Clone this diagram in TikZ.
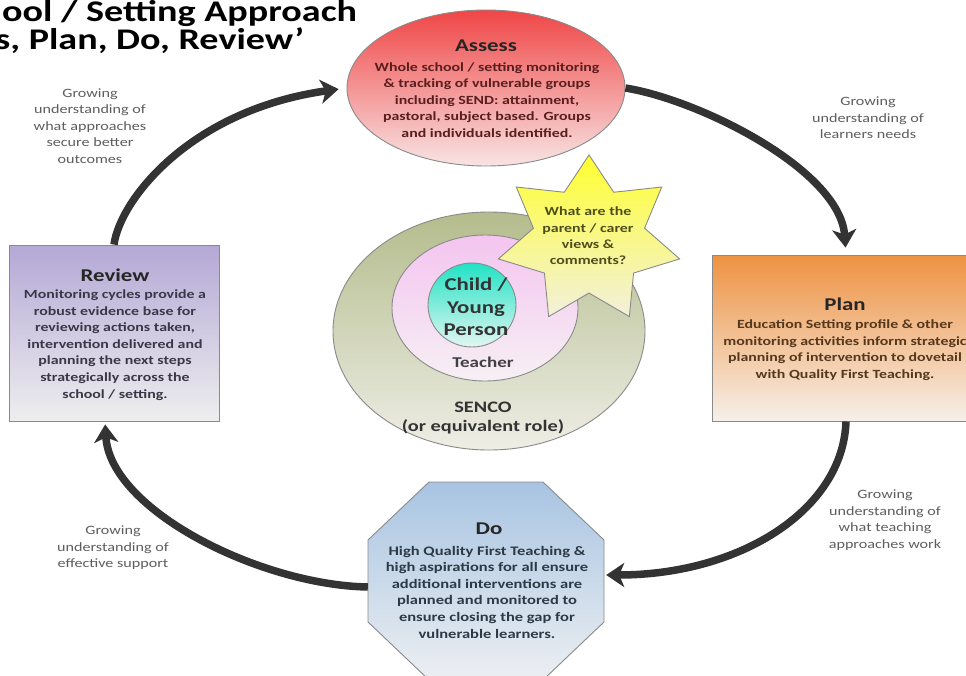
\documentclass[tikz,border=0pt]{standalone}
\usepackage{fontspec}
\setmainfont{Carlito}[FakeStretch=1.27]
\usetikzlibrary{shapes.geometric,arrows.meta}
\definecolor{arrowc}{HTML}{333333}
\definecolor{edgec}{HTML}{8A8A8A}
\definecolor{labelc}{HTML}{5E5E5E}
\definecolor{assessT}{HTML}{F04646}
\definecolor{assessB}{HTML}{F8E4E4}
\definecolor{assessTx}{HTML}{5A1E1E}
\definecolor{reviewT}{HTML}{B4A8D6}
\definecolor{reviewB}{HTML}{EEEEEE}
\definecolor{reviewTx}{HTML}{3A3848}
\definecolor{planT}{HTML}{EE9242}
\definecolor{planB}{HTML}{F6F0EA}
\definecolor{planTx}{HTML}{56381C}
\definecolor{doT}{HTML}{A8C4E2}
\definecolor{doB}{HTML}{ECEFF2}
\definecolor{doTx}{HTML}{2C3A48}
\definecolor{greenT}{HTML}{B4BC8C}
\definecolor{greenB}{HTML}{EEEEE6}
\definecolor{pinkT}{HTML}{F4C4F0}
\definecolor{pinkB}{HTML}{F6F0F4}
\definecolor{tealT}{HTML}{22E2C4}
\definecolor{tealB}{HTML}{E2F6F2}
\definecolor{starT}{HTML}{FFFF30}
\definecolor{starB}{HTML}{F2F0DC}
\definecolor{starTx}{HTML}{4E4E1C}
\begin{document}
\begin{tikzpicture}[x=1pt,y=-1pt,
  flow/.style={line width=7.5pt, draw=arrowc, -{Stealth[length=18pt,width=24pt,inset=5pt]}},
  shapeline/.style={draw=edgec, line width=0.9pt},
  headfont/.style={font=\fontsize{18}{21}\selectfont\bfseries},
  bodytext/.style={align=center, inner sep=0pt, font=\fontsize{12.5}{16.6}\selectfont\bfseries},
  gray label/.style={align=center, inner sep=0pt, text=labelc, font=\fontsize{12.7}{16.6}\selectfont},
  titletext/.style={anchor=base west, inner sep=0pt, font=\fontsize{30}{32}\selectfont\bfseries}
]
\useasboundingbox[fill=white] (0,0) rectangle (966,675);

% title (cropped in the reference)
\node[titletext] (title1) at (2,21) {ool / Setting Approach};
\node[titletext] (title2) at (-5,49) {s, Plan, Do, Review’};

% main shapes
\node[ellipse, shapeline, top color=assessT, bottom color=assessB, minimum width=278pt, minimum height=156pt] (assess) at (486,88) {};
\node[rectangle, shapeline, top color=reviewT, bottom color=reviewB, minimum width=210pt, minimum height=176pt] (review) at (114,333) {};
\node[rectangle, shapeline, top color=planT, bottom color=planB, minimum width=268pt, minimum height=166pt] (plan) at (846,338) {};
\path[shapeline, top color=doT, bottom color=doB] (429,482) -- (543,482) -- (604,540) -- (604,622) -- (543,680) -- (429,680) -- (368,622) -- (368,540) -- cycle;
\node[minimum width=236pt, minimum height=198pt, inner sep=0pt] (do) at (486,581) {};

% centre rings
\node[ellipse, shapeline, top color=greenT, bottom color=greenB, minimum width=312pt, minimum height=238pt] (senco) at (489,331) {};
\node[ellipse, shapeline, top color=pinkT, bottom color=pinkB, minimum width=186pt, minimum height=146pt] (teacher) at (485,308) {};
\node[ellipse, shapeline, top color=tealT, bottom color=tealB, minimum width=88pt, minimum height=84pt] (child) at (472,305) {};

% star
\path[shapeline, top color=starT, bottom color=starB] (589,155)
  \foreach \i in {1,...,7} { -- ({589+57*sin((\i-0.5)*360/7)},{240-53*cos((\i-0.5)*360/7)}) -- ({589+93*sin(\i*360/7)},{240-85*cos(\i*360/7)}) } -- cycle;
\node[bodytext, text=starTx, font=\fontsize{12.5}{16.4}\selectfont\bfseries] (startxt) at (588,236) {What are the\\parent / carer\\views \&\\comments?};

% texts in shapes
\node[headfont, inner sep=0pt, text=black!85] (assesshd) at (486,46) {Assess};
\node[bodytext, text=assessTx] (assesstxt) at (487,100) {Whole school / setting monitoring\\\& tracking of vulnerable groups\\including SEND: attainment,\\pastoral, subject based. Groups\\and individuals identified.};

\node[headfont, inner sep=0pt, text=black!85] (reviewhd) at (115,275) {Review};
\node[bodytext, text=reviewTx] (reviewtxt) at (115,345) {Monitoring cycles provide a\\robust evidence base for\\reviewing actions taken,\\intervention delivered and\\planning the next steps\\strategically across the\\school / setting.};

\node[headfont, inner sep=0pt, text=black!85] (planhd) at (845,304) {Plan};
\node[bodytext, text=planTx] (plantxt) at (845,350) {Education Setting profile \& other\\monitoring activities inform strategic\\planning of intervention to dovetail\\with Quality First Teaching.};

\node[headfont, inner sep=0pt, text=black!85] (dohd) at (489,529) {Do};
\node[bodytext, text=doTx, font=\fontsize{13}{16.6}\selectfont\bfseries] (dotxt) at (487,592) {High Quality First Teaching \&\\high aspirations for all ensure\\additional interventions are\\planned and monitored to\\ensure closing the gap for\\vulnerable learners.};

\node[align=center, inner sep=0pt, text=black!80, font=\fontsize{18}{22.5}\selectfont\bfseries] (childtxt) at (476,307) {Child /\\Young\\Person};
\node[inner sep=0pt, text=black!75, font=\fontsize{15}{18}\selectfont\bfseries] (teachertxt) at (483,362) {Teacher};
\node[align=center, inner sep=0pt, text=black!80, font=\fontsize{16}{19.5}\selectfont\bfseries] (sencotxt) at (483,418) {SENCO\\(or equivalent role)};

% gray labels
\node[gray label] (lab1) at (90,126) {Growing\\understanding of\\what approaches\\secure better\\outcomes};
\node[gray label] (lab2) at (868,118) {Growing\\understanding of\\learners needs};
\node[gray label] (lab3) at (885,520) {Growing\\understanding of\\what teaching\\approaches work};
\node[gray label] (lab4) at (113,548) {Growing\\understanding of\\effective support};

% cycle arrows
\draw[flow, shorten >=8pt] (review.north) .. controls (120,200) and (190,110) .. (assess.west);
\draw[flow, shorten >=7pt] (assess.east) .. controls (700,100) and (840,170) .. (plan.north);
\draw[flow, shorten >=2pt] (plan.south) .. controls (843,510) and (740,575) .. ([yshift=6pt]do.east);
\draw[flow, shorten >=3pt] ([yshift=-6pt]do.west) .. controls (260,585) and (110,510) .. ([xshift=-9pt]review.south);
\end{tikzpicture}
\end{document}
